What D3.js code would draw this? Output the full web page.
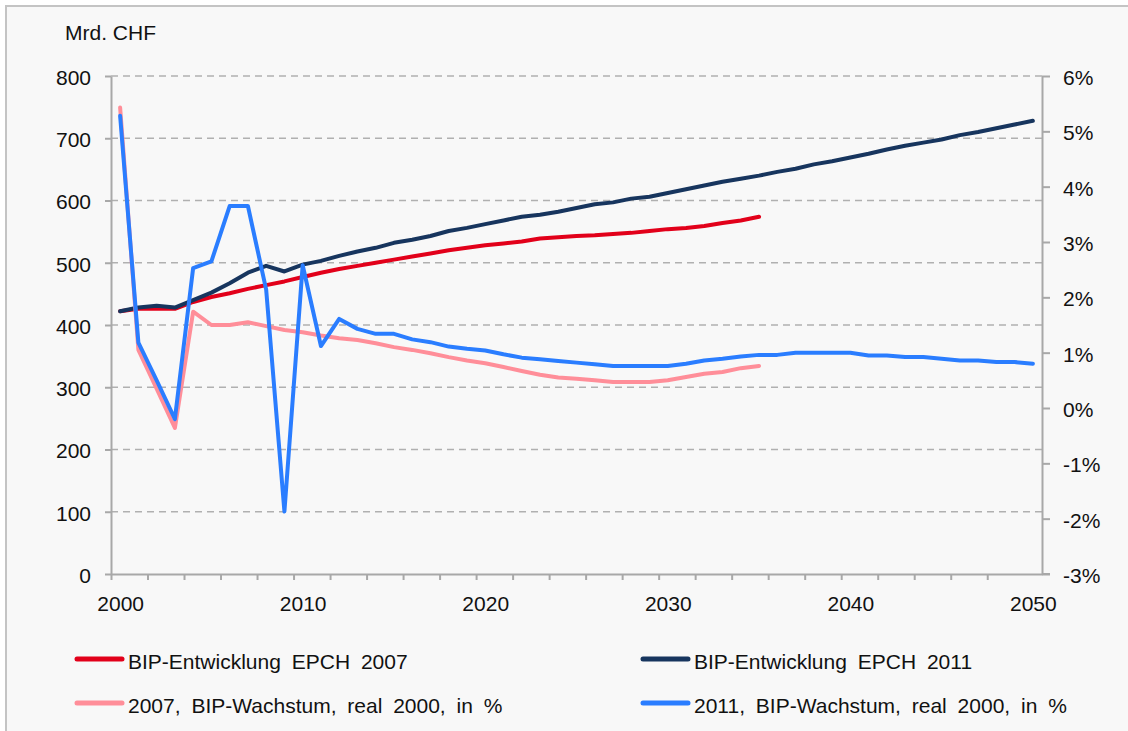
<!DOCTYPE html>
<html>
<head>
<meta charset="utf-8">
<script src="https://cdn.jsdelivr.net/npm/d3@7"></script>
<style>
  body { margin: 0; background: #fff; }
  svg { display: block; font-family: 'Liberation Sans', Arial, sans-serif; }
</style>
</head>
<body>
<div class="chart"></div>
<script>
const years = [
  2000, 2001, 2002, 2003, 2004, 2005, 2006, 2007, 2008, 2009,
  2010, 2011, 2012, 2013, 2014, 2015, 2016, 2017, 2018, 2019,
  2020, 2021, 2022, 2023, 2024, 2025, 2026, 2027, 2028, 2029,
  2030, 2031, 2032, 2033, 2034, 2035, 2036, 2037, 2038, 2039,
  2040, 2041, 2042, 2043, 2044, 2045, 2046, 2047, 2048, 2049, 2050
]

// Mrd. CHF, 2000 - 2035
const bip2007 = [
  422, 426, 426, 426, 437, 445, 451, 458, 464, 470,
  477, 484, 490, 495, 500, 505, 510, 515, 520, 524,
  528, 531, 534, 539, 541, 543, 544, 546, 548, 551,
  554, 556, 559, 564, 568, 574
]

// Mrd. CHF, 2000 - 2050
const bip2011 = [
  422, 428, 431, 428, 440, 452, 467, 484, 495, 486,
  497, 503, 511, 518, 524, 532, 537, 543, 551, 556,
  562, 568, 574, 577, 582, 588, 594, 597, 603, 606,
  612, 618, 624, 630, 635, 640, 646, 651, 658, 663,
  669, 675, 682, 688, 693, 698, 705, 710, 716, 722, 728
]

// % , 2000 - 2035
const wachstum2007 = [
  5.43, 1.05, 0.35, -0.36, 1.74, 1.50, 1.50, 1.55, 1.48, 1.41,
  1.37, 1.31, 1.26, 1.23, 1.17, 1.10, 1.05, 0.99, 0.92, 0.86,
  0.81, 0.74, 0.67, 0.60, 0.55, 0.53, 0.50, 0.47, 0.47, 0.47,
  0.50, 0.56, 0.62, 0.65, 0.72, 0.76
]

// %, 2000 - 2050
const wachstum2011 = [
  5.28, 1.18, 0.50, -0.20, 2.53, 2.65, 3.65, 3.65, 2.14, -1.87,
  2.58, 1.12, 1.61, 1.43, 1.34, 1.34, 1.24, 1.19, 1.11, 1.07,
  1.04, 0.97, 0.91, 0.88, 0.85, 0.82, 0.79, 0.76, 0.76, 0.76,
  0.76, 0.80, 0.86, 0.89, 0.93, 0.96, 0.96, 1.00, 1.00, 1.00,
  1.00, 0.95, 0.95, 0.92, 0.92, 0.89, 0.86, 0.86, 0.83, 0.83, 0.80
]

const leftTicks = [0, 100, 200, 300, 400, 500, 600, 700, 800]
const rightTicks = [-3, -2, -1, 0, 1, 2, 3, 4, 5, 6]
const xLabels = [2000, 2010, 2020, 2030, 2040, 2050]

const seriesNames = [
  'BIP-Entwicklung EPCH 2007',
  'BIP-Entwicklung EPCH 2011',
  '2007, BIP-Wachstum, real 2000, in %',
  '2011, BIP-Wachstum, real 2000, in %'
]

const width = 1128
const height = 731
const plot = { left: 111, right: 1042, top: 76, bottom: 574 }

const colors = ['#e2001a', '#17355e', '#ff8e99', '#2a7dff']

const svg = d3.select('.chart')
  .append('svg')
  .attr('width', width)
  .attr('height', height)

// frame
svg.append('rect')
  .attr('x', 6)
  .attr('y', 6)
  .attr('width', width + 20)
  .attr('height', height + 20)
  .attr('fill', '#f8f8f8')
  .attr('stroke', '#c4c4c4')
  .attr('stroke-width', 2)

const xScale = d3.scaleLinear()
  .domain([1999.5, 2050.5])
  .range([plot.left, plot.right])

const yLeft = d3.scaleLinear()
  .domain([0, 800])
  .range([plot.bottom, plot.top])

const yRight = d3.scaleLinear()
  .domain([-3, 6])
  .range([plot.bottom, plot.top])

// gridlines
svg.append('g')
  .selectAll('line')
  .data(leftTicks.filter(d => d > 0))
  .enter()
  .append('line')
  .attr('x1', plot.left)
  .attr('x2', plot.right)
  .attr('y1', d => yLeft(d))
  .attr('y2', d => yLeft(d))
  .attr('stroke', '#b0b0b0')
  .attr('stroke-width', 1.5)
  .attr('stroke-dasharray', '7,5')

const axisColor = '#a8a8a8'

// left axis
const leftAxis = d3.axisLeft(yLeft)
  .tickValues(leftTicks)
  .tickSize(6)
  .tickPadding(14)
  .tickSizeOuter(0)

const gLeft = svg.append('g')
  .attr('transform', 'translate(' + plot.left + ',0)')
  .call(leftAxis)

// right axis
const rightAxis = d3.axisRight(yRight)
  .tickValues(rightTicks)
  .tickSize(8)
  .tickPadding(13)
  .tickSizeOuter(0)
  .tickFormat(d => d + '%')

const gRight = svg.append('g')
  .attr('transform', 'translate(' + plot.right + ',0)')
  .call(rightAxis)

// bottom axis: tick marks between categories every 2 years
const tickYears = years.filter((d, i) => i % 2 === 0 && d < 2050).map(d => d - 0.5)
const bottomAxis = d3.axisBottom(xScale)
  .tickValues(tickYears)
  .tickSize(6)
  .tickSizeOuter(0)
  .tickFormat('')

const gBottom = svg.append('g')
  .attr('transform', 'translate(0,' + plot.bottom + ')')
  .call(bottomAxis)

svg.append('line')
  .attr('x1', plot.right)
  .attr('x2', plot.right + 8)
  .attr('y1', plot.bottom)
  .attr('y2', plot.bottom)
  .attr('stroke', axisColor)
  .attr('stroke-width', 2)

const labelAxis = d3.axisBottom(xScale)
  .tickValues(xLabels)
  .tickSize(0)
  .tickPadding(22)
  .tickFormat(d3.format('d'))

const gLabels = svg.append('g')
  .attr('transform', 'translate(0,' + plot.bottom + ')')
  .call(labelAxis)
gLabels.select('.domain').remove()

;[gLeft, gRight, gBottom].forEach(g => {
  g.selectAll('.domain, line')
    .attr('stroke', axisColor)
    .attr('stroke-width', 2)
})

;[gLeft, gRight, gLabels].forEach(g => {
  g.selectAll('text')
    .attr('fill', '#111')
    .style('font-size', '21px')
})
gLeft.selectAll('text').attr('dy', '0.4em')
gRight.selectAll('text').attr('dy', '0.4em')
gLabels.selectAll('text').attr('dy', '0.71em')

svg.append('text')
  .attr('x', 65)
  .attr('y', 40)
  .attr('fill', '#111')
  .style('font-size', '21px')
  .text('Mrd. CHF')

// lines
const lineLeft = d3.line()
  .x((d, i) => xScale(years[i]))
  .y(d => yLeft(d))

const lineRight = d3.line()
  .x((d, i) => xScale(years[i]))
  .y(d => yRight(d))

const series = [
  { values: bip2007, line: lineLeft },
  { values: bip2011, line: lineLeft },
  { values: wachstum2007, line: lineRight },
  { values: wachstum2011, line: lineRight }
]

series.forEach((s, i) => {
  svg.append('path')
    .datum(s.values)
    .attr('d', s.line)
    .attr('fill', 'none')
    .attr('stroke', colors[i])
    .attr('stroke-width', 4)
    .attr('stroke-linejoin', 'round')
    .attr('stroke-linecap', 'round')
})

// legend
const legendPos = [
  { x: 77, y: 659 },
  { x: 643, y: 659 },
  { x: 77, y: 703 },
  { x: 643, y: 703 }
]

const legend = svg.selectAll('.legend')
  .data(seriesNames)
  .enter()
  .append('g')
  .attr('class', 'legend')
  .attr('transform', (d, i) => 'translate(' + legendPos[i].x + ',' + legendPos[i].y + ')')

legend.append('line')
  .attr('x1', 0)
  .attr('x2', 45)
  .attr('stroke', (d, i) => colors[i])
  .attr('stroke-width', 5)
  .attr('stroke-linecap', 'round')

legend.append('text')
  .attr('x', 51)
  .attr('y', 10)
  .attr('fill', '#111')
  .style('font-size', '21px')
  .style('word-spacing', '5px')
  .text(d => d)
</script>
</body>
</html>
